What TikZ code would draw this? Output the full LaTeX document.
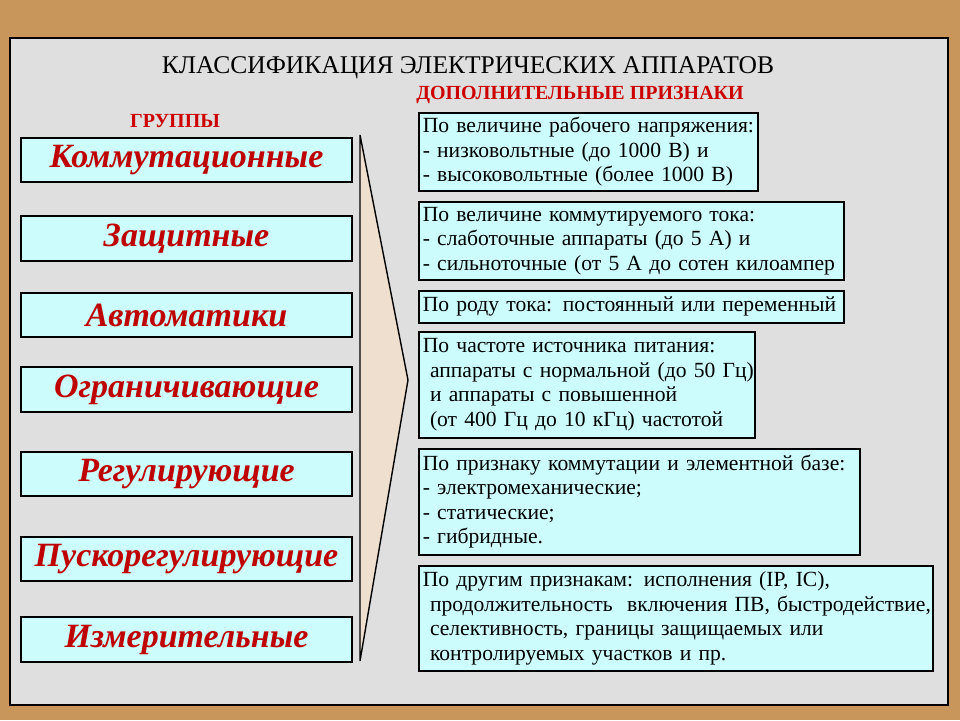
\documentclass[tikz,border=0pt]{standalone}
\usepackage{fontspec}
\setmainfont{Liberation Serif}
\newcommand\myln[1]{\mbox{#1}}
\begin{document}
\begin{tikzpicture}[x=1pt,y=-1pt,
 grp/.style={draw=black,line width=2pt,fill=boxc,text=red!75!black,font=\fontsize{34}{36}\selectfont\bfseries\itshape},
 feat/.style={draw=black,line width=1.6pt,fill=boxc,anchor=north west,align=left,inner xsep=4pt,inner ysep=3pt,font=\fontsize{21.6}{24.5}\selectfont},
 hdr/.style={text=red!80!black,font=\fontsize{20}{22}\selectfont\bfseries}]
\definecolor{boxc}{HTML}{CCFCFC}
\definecolor{cork}{HTML}{C8955A}
\fill[cork] (0,0) rectangle (960,720);
\useasboundingbox (0,0) rectangle (960,720);
\draw[line width=2pt,fill=gray!25] (10,38) rectangle (948,705);
\node (title) at (468,68) {\fontsize{25.5}{27}\selectfont КЛАССИФИКАЦИЯ ЭЛЕКТРИЧЕСКИХ АППАРАТОВ};
\node[hdr] (h2) at (580,95) {ДОПОЛНИТЕЛЬНЫЕ ПРИЗНАКИ};
\node[hdr] (h1) at (175,121) {ГРУППЫ};
\coordinate (t1) at (360,135);
\coordinate (t2) at (408,380);
\coordinate (t3) at (360,661);
\draw[line width=1.4pt,fill=brown!25!white] (t1) -- (t2) -- (t3) -- cycle;
\foreach \n/\y/\h/\t in {g1/137/44/Коммутационные, g2/215/45/Защитные, g3/292/44/Автоматики, g4/366/45/Ограничивающие, g5/451/44/Регулирующие, g6/536/44/Пускорегулирующие, g7/616/45/Измерительные}{
 \node[grp,minimum width=331,minimum height=\h,anchor=north west,inner sep=0] (\n) at (20,\y) {\t};
}
\node[feat,text width=331,minimum height=78] (f1) at (418,112) {\myln{По величине рабочего напряжения:}\\\myln{- низковольтные (до 1000 В) и}\\\myln{- высоковольтные (более 1000 В)}};
\node[feat,text width=417,minimum height=78] (f2) at (418,201) {\myln{По величине коммутируемого тока:}\\\myln{- слаботочные аппараты (до 5 А) и}\\\myln{- сильноточные (от 5 А до сотен килоампер}};
\node[feat,text width=417,minimum height=32,inner ysep=1pt] (f3) at (418,290) {\myln{По роду тока: постоянный или переменный}};
\node[feat,text width=328,minimum height=106] (f4) at (418,331) {\myln{По частоте источника питания:}\\\myln{\ аппараты с нормальной (до 50 Гц)}\\\myln{\ и аппараты с повышенной}\\\myln{\ (от 400 Гц до 10 кГц) частотой}};
\node[feat,text width=433,minimum height=106] (f5) at (418,448) {\myln{По признаку коммутации и элементной базе:}\\\myln{- электромеханические;}\\\myln{- статические;}\\\myln{- гибридные.}};
\node[feat,text width=506,minimum height=105] (f6) at (418,565) {\myln{По другим признакам: исполнения (IP, IC),}\\\myln{\ продолжительность\ \ включения ПВ, быстродействие,}\\\myln{\ селективность, границы защищаемых или}\\\myln{\ контролируемых участков и пр.}};
\end{tikzpicture}
\end{document}
